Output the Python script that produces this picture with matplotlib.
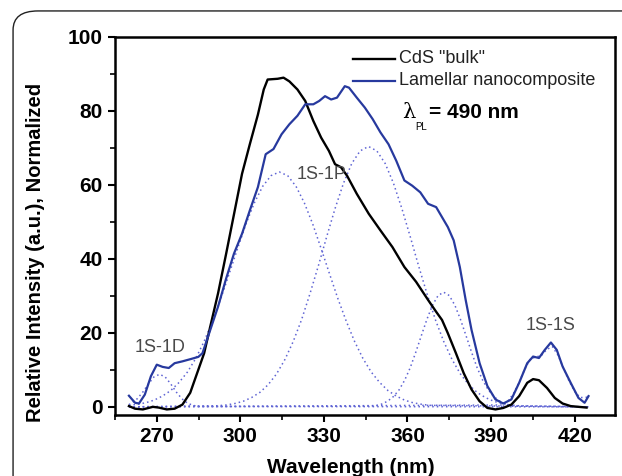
import matplotlib.pyplot as plt
from matplotlib.patches import FancyBboxPatch
from matplotlib.ticker import MultipleLocator

plt.rcParams['font.family'] = ['Liberation Sans', 'DejaVu Sans']

# CdS "bulk" excitation spectrum
bulk_x = [260, 262.2, 265, 268.6, 270.7, 273.6, 276.4, 279.2, 282, 284.9, 287, 289.2,
          292, 294.9, 297.7, 300.6, 303.4, 306.3, 308.4, 309.8, 313.4, 315.5, 317.6,
          320.5, 323.3, 326.2, 329, 331.8, 334, 336.1, 338.3, 341.8, 346.1, 350.3,
          354.6, 358.9, 363.1, 367.4, 370.3, 372.4, 374.5, 377.4, 380.2, 383, 385.9,
          388.7, 391.6, 394.4, 397.3, 400.1, 403, 405.1, 407.2, 410.1, 412.9, 415.7,
          418.6, 424.3]
bulk_y = [0.2, -0.5, -0.7, 0, -0.2, -0.7, -0.5, 0.6, 3.8, 10, 14.5, 21.7,
          30.7, 41.4, 52, 63, 71, 79, 85.8, 88.5, 88.7, 89, 88,
          85.8, 82.7, 77.3, 72.8, 69.2, 65.6, 64.8, 62.5, 57.6, 52.2, 47.7,
          43.2, 37.8, 33.8, 28.9, 25.7, 23.5, 19.9, 14.5, 9.1, 4.7, 1.5,
          -0.3, -0.7, -0.3, 0.6, 2.9, 6.5, 7.5, 7.2, 5.1, 2.4, 0.9,
          0.2, -0.2]

# Lamellar nanocomposite
lam_x = [260, 262.2, 263.6, 265.7, 267.9, 270, 272.1, 274.3, 276.4, 279.2, 282.1, 284.9,
         286.4, 289.2, 292, 294.9, 297.7, 300.6, 303.4, 306.3, 309.1, 311.9, 314.8,
         317.6, 320.5, 323.3, 326.2, 328.3, 330.4, 332.6, 334.7, 337.5, 339, 341.8,
         344.7, 347.5, 350.3, 353.2, 356, 358.9, 361.7, 364.6, 367.4, 370.3, 372.4,
         374.5, 376.6, 378.8, 380.9, 383, 385.9, 388.7, 391.6, 394.4, 397.3, 400.1,
         403, 405.1, 407.2, 409.3, 411.5, 413.6, 415.7, 418.6, 421.4, 423.6, 425]
lam_y = [3, 1.1, 0.9, 3.3, 8.3, 11.4, 10.8, 10.5, 11.8, 12.3, 12.9, 13.5,
         14.5, 20.8, 27.1, 34.7, 41.4, 46.8, 53.1, 59.4, 68.3, 69.7, 73.7,
         76.4, 78.7, 81.8, 81.8, 82.7, 84, 83.1, 83.6, 86.7, 86.3, 83.6,
         80.9, 77.8, 74.2, 71, 66.5, 61.2, 59.8, 58, 54.9, 54, 51.3,
         48.6, 45, 37.8, 28.9, 20.8, 11.8, 5.6, 2, 0.9, 2, 6.5,
         11.8, 13.6, 13.2, 15.4, 17.4, 15.4, 10.9, 6.5, 2.4, 1.1, 2.9]

# fitted components (dotted)
d_x = [260, 261, 263, 265, 267, 269, 271, 273, 275, 277, 279, 281, 283, 285, 425]
d_y = [0.6, 1.0, 2.2, 4.0, 6.2, 8.1, 8.8, 8.1, 6.2, 4.0, 2.2, 1.0, 0.4, 0.1, 0]

p1_x = list(range(260, 369, 3)) + [425]
p1_y = [0.4, 0.7, 1.1, 1.8, 2.9, 4.4, 6.6, 9.4, 13.1, 17.7, 23.2, 29.3, 36.0, 42.8,
        49.4, 55.1, 59.6, 62.5, 63.5, 62.5, 59.6, 55.1, 49.4, 42.8, 36.0, 29.3, 23.2,
        17.7, 13.1, 9.4, 6.6, 4.4, 2.9, 1.8, 1.1, 0.7, 0.4, 0]

p2_x = [260] + list(range(292, 401, 3)) + [425]
p2_y = [0, 0.3, 0.5, 0.9, 1.5, 2.5, 3.9, 6.0, 8.9, 12.8, 17.7, 23.6, 30.6, 38.1, 46.0,
        53.6, 60.4, 65.8, 69.2, 70.4, 69.2, 65.8, 60.4, 53.6, 46.0, 38.1, 30.6, 23.6,
        17.7, 12.8, 8.9, 6.0, 3.9, 2.5, 1.5, 0.9, 0.5, 0.3, 0]

p3_x = [260] + list(range(347, 400, 2)) + [425]
p3_y = [0, 0.2, 0.4, 0.8, 1.6, 2.8, 4.6, 7.2, 10.6, 14.8, 19.3, 23.7, 27.5, 30.1, 31.0,
        30.1, 27.5, 23.7, 19.3, 14.8, 10.6, 7.2, 4.6, 2.8, 1.6, 0.8, 0.4, 0.2, 0]

s_x = [260, 394, 396, 398, 400, 402, 404, 406, 408, 410, 412, 414, 416, 418, 420, 422, 424.5]
s_y = [0, 0.5, 1.5, 3.5, 6.5, 10.0, 12.8, 13.5, 13.8, 15.5, 16.3, 14.0, 10.5, 7.0, 4.2, 2.5, 2.6]

fig = plt.figure(figsize=(6.22, 4.76), dpi=100)
fig.patches.append(FancyBboxPatch((0.021, -0.2), 1.2, 1.177,
                                  boxstyle="round,pad=0,rounding_size=0.04",
                                  transform=fig.transFigure, fill=False,
                                  edgecolor='#222222', linewidth=1.0))
ax = fig.add_axes([0.1849, 0.1282, 0.8038, 0.7941])

dot = dict(color='#5f64d4', linestyle=(0, (1, 2)), linewidth=1.1)
for cx, cy in [(d_x, d_y), (p1_x, p1_y), (p2_x, p2_y), (p3_x, p3_y), (s_x, s_y)]:
    ax.plot(cx, cy, **dot)

ax.plot(bulk_x, bulk_y, color='black', linewidth=1.7)
ax.plot(lam_x, lam_y, color='#27399e', linewidth=1.6)

ax.set_xlim(255, 434.5)
ax.set_ylim(-2.2, 100)
ax.xaxis.set_major_locator(MultipleLocator(30))
ax.xaxis.set_minor_locator(MultipleLocator(15))
ax.yaxis.set_major_locator(MultipleLocator(20))
ax.yaxis.set_minor_locator(MultipleLocator(10))
ax.tick_params(which='major', direction='out', length=5, width=1.5, pad=4,
               labelsize=15)
ax.tick_params(which='minor', direction='out', length=3.5, width=1.2)
for lab in ax.get_xticklabels() + ax.get_yticklabels():
    lab.set_fontweight('bold')
for sp in ax.spines.values():
    sp.set_linewidth(1.8)

ax.set_xlabel('Wavelength (nm)', fontsize=15, fontweight='bold')
ax.set_ylabel('Relative Intensity (a.u.), Normalized', fontsize=14.5,
              fontweight='bold')
ax.yaxis.set_label_coords(-0.14, 0.43)
ax.xaxis.set_label_coords(0.472, -0.115)

# legend drawn by hand
ax.plot([0.476, 0.56], [0.942, 0.942], color='black', linewidth=1.7,
        transform=ax.transAxes)
ax.plot([0.476, 0.56], [0.884, 0.884], color='#27399e', linewidth=1.6,
        transform=ax.transAxes)
ax.text(0.568, 0.942, 'CdS "bulk"', transform=ax.transAxes, fontsize=13,
        va='center', color='#222222')
ax.text(0.568, 0.884, 'Lamellar nanocomposite', transform=ax.transAxes,
        fontsize=13, va='center', color='#222222')
ax.text(0.575, 0.80, 'λ', transform=ax.transAxes, fontsize=15,
        family='DejaVu Serif', va='center')
ax.text(0.6, 0.762, 'PL', transform=ax.transAxes, fontsize=7, va='center')
ax.text(0.628, 0.80, '= 490 nm', transform=ax.transAxes, fontsize=15,
        fontweight='bold', va='center')

gray = '#4a4a4a'
ax.text(271.2, 16.0, '1S-1D', fontsize=13, color=gray, ha='center', va='center')
ax.text(329.3, 62.7, '1S-1P', fontsize=13, color=gray, ha='center', va='center')
ax.text(411.2, 22.1, '1S-1S', fontsize=13, color=gray, ha='center', va='center')

fig.savefig('out.png', dpi=100)
